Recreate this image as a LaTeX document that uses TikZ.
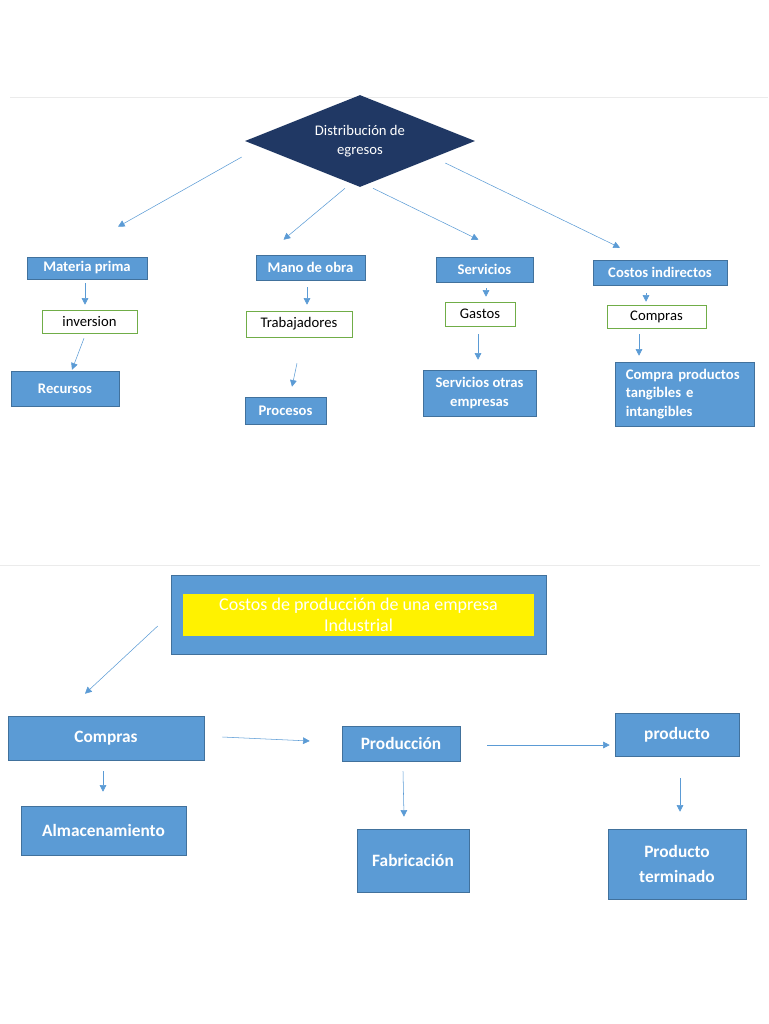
\documentclass[tikz,border=0pt]{standalone}
\usepackage{fontspec}
\setmainfont{Carlito}
\usetikzlibrary{shapes.geometric,arrows.meta}
\definecolor{azul}{HTML}{5B9BD5}
\definecolor{borde}{HTML}{41719C}
\definecolor{verde}{HTML}{70AD47}
\definecolor{marino}{HTML}{203864}
\tikzset{
    tam/.style 2 args={minimum width=#1*0.75pt,minimum height=#2*0.75pt},
    caja/.style={draw=borde,fill=azul,text=white,inner sep=1pt,
        font=\fontsize{11}{14}\selectfont\bfseries},
    cajag/.style={draw=borde,fill=azul,text=white,inner sep=1pt,align=center,
        font=\fontsize{13}{19}\selectfont\bfseries},
    hueca/.style={draw=verde,fill=white,text=black,inner sep=1pt,
        font=\fontsize{11}{13}\selectfont},
    flecha/.style={draw=azul,-{Triangle[length=5pt,width=5pt]}},
}

\begin{document}
\begin{tikzpicture}[x=0.75pt,y=-0.75pt]
    \useasboundingbox (0,0) rectangle (768,1024);
    \draw[black!8] (10,97) -- (768,97);
    \draw[black!8] (0,565) -- (760,565);

    \node[diamond,fill=marino,tam={230}{92},inner sep=0pt,aspect=2.5,
        text=white,align=center,font=\fontsize{11}{14}\selectfont]
        (dist) at (360,141) {Distribución de\\egresos};

    \node[caja,tam={120}{22}] (mp) at (87,268) {Materia prima};
    \node[caja,tam={109}{25}] (mo) at (310.5,267.5) {Mano de obra};
    \node[caja,tam={97}{25}] (serv) at (484.5,269.5) {Servicios};
    \node[caja,tam={134}{25}] (ci) at (660,272.5) {Costos indirectos};

    \node[hueca,tam={95}{23}] (inv) at (89.5,321.5) {inversion};
    \node[hueca,tam={106}{26}] (trab) at (299,324) {Trabajadores};
    \node[hueca,tam={70}{24}] (gas) at (480,314) {Gastos};
    \node[hueca,tam={99}{23}] (comp) at (656.5,316.5) {Compras};

    \node[caja,tam={108}{35}] (rec) at (65,388.5) {Recursos};
    \node[caja,tam={81}{27}] (proc) at (285.5,410.5) {Procesos};
    \node[caja,tam={113}{46},align=center] (soe) at (479.5,393)
        {Servicios otras\\empresas};
    \node[caja,tam={139}{64},inner xsep=8pt,text width=88pt,align=left]
        (cpt) at (684.5,394) {Compra productos\\tangibles e\\intangibles};

    \draw[flecha] ([shift={(-3,16)}]dist.west) -- ([shift={(31,-30)}]mp.north);
    \draw[flecha] ([shift={(-15,1)}]dist.south) -- ([shift={(-27,-15)}]mo.north);
    \draw[flecha] ([shift={(13,1)}]dist.south) -- ([shift={(-6,-17)}]serv.north);
    \draw[flecha] ([shift={(-30,22)}]dist.east) -- ([shift={(-40,-12)}]ci.north);

    \draw[flecha] ([shift={(-2,4)}]mp.south) -- ([shift={(-4.5,-5)}]inv.north);
    \draw[flecha] ([shift={(-5.5,5)}]inv.south) -- ([shift={(7,-1)}]rec.north);
    \draw[flecha] ([shift={(-3.5,7)}]mo.south) -- ([shift={(8,-6)}]trab.north);
    \draw[flecha] ([shift={(-2,26)}]trab.south) -- ([shift={(6.5,-10)}]proc.north);
    \draw[flecha] ([shift={(1.5,6)}]serv.south) -- ([shift={(6,-5)}]gas.north);
    \draw[flecha] ([shift={(-2,8)}]gas.south) -- ([shift={(-1.5,-10)}]soe.north);
    \draw[flecha] ([shift={(-14,8)}]ci.south) -- ([shift={(-10.5,-3)}]comp.north);
    \draw[flecha] ([shift={(-17.5,6)}]comp.south) -- ([shift={(-45.5,-6)}]cpt.north);

    \node[fill=azul,draw=borde,tam={375}{79}] (tit) at (358.5,614.5) {};
    \node[fill=yellow,tam={351}{42},inner sep=1pt,text=white,align=center,
        font=\fontsize{13.5}{16}\selectfont]
        (amar) at (358.5,615) {Costos de producción de una empresa\\Industrial};

    \node[cajag,tam={196}{44}] (compras) at (106,738) {Compras};
    \node[cajag,tam={118}{35}] (prod) at (401,743.5) {Producción};
    \node[cajag,tam={124}{43}] (producto) at (677,734.5) {producto};
    \node[cajag,tam={165}{49}] (alm) at (103.5,830.5) {Almacenamiento};
    \node[cajag,tam={112}{63}] (fab) at (413,860.5) {Fabricación};
    \node[cajag,tam={138}{70}] (pt) at (677,864) {Producto\\terminado};

    \draw[flecha] ([shift={(-13,11.5)}]tit.west) -- ([shift={(-21,-22)}]compras.north);
    \draw[flecha] ([shift={(18,-1)}]compras.east) -- ([shift={(-32,-2.5)}]prod.west);
    \draw[flecha] ([shift={(27,1.5)}]prod.east) -- ([shift={(-5,10.5)}]producto.west);
    \draw[flecha] ([shift={(-3,11)}]compras.south) -- ([shift={(-0.5,-14)}]alm.north);
    \draw[flecha] ([shift={(2,10)}]prod.south) -- ([shift={(-9,-12)}]fab.north);
    \draw[flecha] ([shift={(3,22)}]producto.south) -- ([shift={(3,-17)}]pt.north);
\end{tikzpicture}
\end{document}
